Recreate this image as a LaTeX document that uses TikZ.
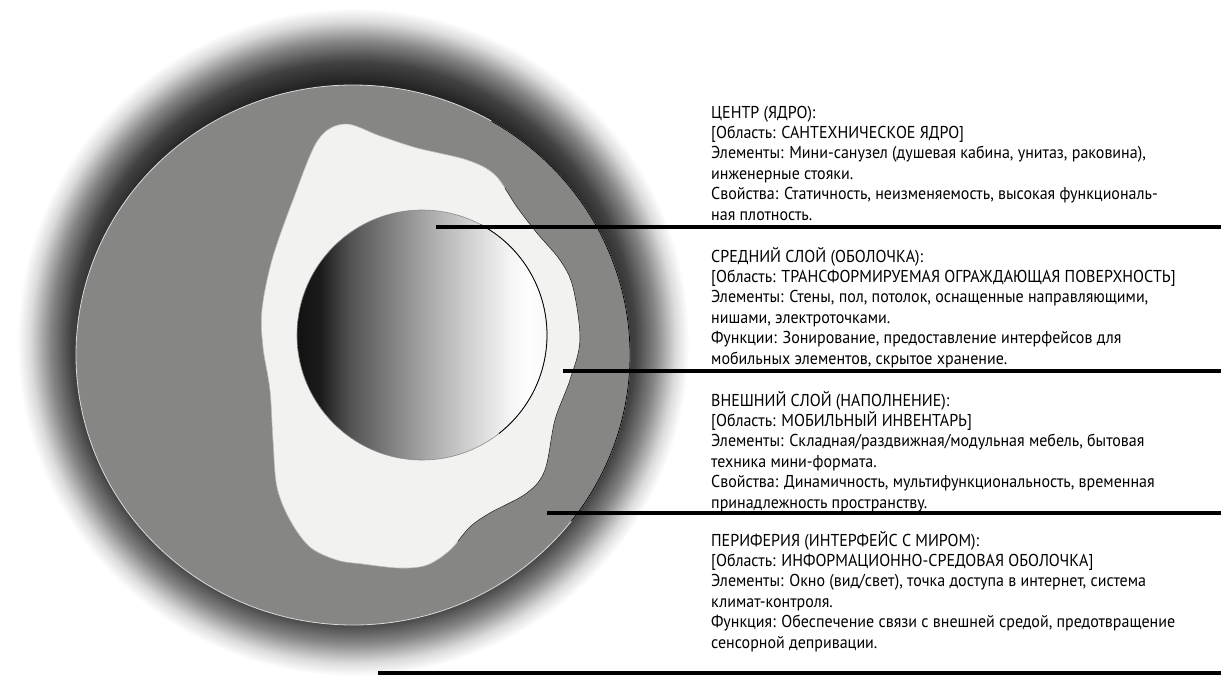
\documentclass[tikz,border=0pt]{standalone}
\usepackage{fontspec}
\setmainfont[FakeStretch=0.93]{PT Sans}
\usetikzlibrary{positioning}
\definecolor{disk}{RGB}{134,134,133}
\definecolor{blob}{RGB}{242,242,240}
\pgfdeclareradialshading{halo}{\pgfpoint{0bp}{0bp}}{color(0bp)=(black!86); color(19.5bp)=(black!86); color(21bp)=(black!74); color(22.5bp)=(black!48); color(24bp)=(black!14); color(25bp)=(white); color(50bp)=(white)}
\pgfdeclarehorizontalshading{sphere}{100bp}{color(0bp)=(black!93); color(25bp)=(black!93); color(29.5bp)=(black!90); color(35.5bp)=(black!68); color(45.5bp)=(black!46); color(51.5bp)=(black!33); color(59.5bp)=(black!18); color(67.5bp)=(black!4); color(71.5bp)=(white); color(75bp)=(black!3); color(100bp)=(black!3)}
\tikzset{
  txt/.style={align=left, inner sep=0pt, font=\fontsize{17.2}{20.4}\selectfont},
  leader/.style={line width=3.6pt},
  rim/.style={line width=0.8pt},
}

\begin{document}
\begin{tikzpicture}[x=1pt,y=-1pt]
  \useasboundingbox (0,0) rectangle (1221,675);
  % halo and disk
  \shade[shading=halo] (353,342) ellipse [x radius=336, y radius=334];
  \fill[disk] (353,355) ellipse [x radius=277, y radius=270];
  \draw[rim, white!85!black] (353,355) ellipse [x radius=277, y radius=270];
  \draw[rim, black] ([shift={(-60:277 and 270)}]353,355) arc [start angle=-60, end angle=38, x radius=277, y radius=270];
  % blob
  \def\blobpath{plot[smooth cycle, tension=0.55] coordinates {(345,124) (380,136) (417,148) (467,160) (495,175) (517,207) (537,233) (560,260) (573,287) (580,340) (570,380) (555,420) (545,470) (527,493) (490,513) (470,527) (450,550) (427,565) (400,568) (363,564) (337,560) (310,547) (290,520) (277,487) (273,440) (270,390) (263,347) (262,310) (272,260) (293,200) (318,140)}}
  \fill[blob] \blobpath;
  \draw[line width=0.6pt, black!25] \blobpath;
  \begin{scope}
    \clip (510,150) -- (700,150) -- (700,600) -- (450,600) -- cycle;
    \draw[line width=0.6pt, black!85] \blobpath;
  \end{scope}
  % sphere
  \shade[shading=sphere] (422,335) circle [radius=125];
  \draw[line width=0.6pt, black!45] (422,335) circle [radius=125];
  \draw[rim, black] ([shift={(-62:125)}]422,335) arc [start angle=-62, end angle=52, radius=125];
  % leaders
  \coordinate (corept) at (436,227);   \coordinate (coreend) at (1221,227);
  \coordinate (shellpt) at (563,371);  \coordinate (shellend) at (1221,371);
  \coordinate (fillpt) at (547,513);   \coordinate (fillend) at (1221,513);
  \coordinate (worldpt) at (378,673);  \coordinate (worldend) at (1221,673);
  \draw[leader] (corept) -- (coreend);
  \draw[leader] (shellpt) -- (shellend);
  \draw[leader] (fillpt) -- (fillend);
  \draw[leader] (worldpt) -- (worldend);
  % labels (anchored at the last baseline)
  \node[txt, anchor=base west] (lcore) at (711,220) {ЦЕНТР (ЯДРО):\\{[}Область: САНТЕХНИЧЕСКОЕ ЯДРО]\\Элементы: Мини-санузел (душевая кабина, унитаз, раковина),\\инженерные стояки.\\Свойства: Статичность, неизменяемость, высокая функциональ-\\ная плотность.};
  \node[txt, anchor=base west] (lshell) at (711,364) {СРЕДНИЙ СЛОЙ (ОБОЛОЧКА):\\{[}Область: ТРАНСФОРМИРУЕМАЯ ОГРАЖДАЮЩАЯ ПОВЕРХНОСТЬ]\\Элементы: Стены, пол, потолок, оснащенные направляющими,\\нишами, электроточками.\\Функции: Зонирование, предоставление интерфейсов для\\мобильных элементов, скрытое хранение.};
  \node[txt, anchor=base west] (lstuff) at (711,508) {ВНЕШНИЙ СЛОЙ (НАПОЛНЕНИЕ):\\{[}Область: МОБИЛЬНЫЙ ИНВЕНТАРЬ]\\Элементы: Складная/раздвижная/модульная мебель, бытовая\\техника мини-формата.\\Свойства: Динамичность, мультифункциональность, временная\\принадлежность пространству.};
  \node[txt, anchor=base west] (lworld) at (711,648) {ПЕРИФЕРИЯ (ИНТЕРФЕЙС С МИРОМ):\\{[}Область: ИНФОРМАЦИОННО-СРЕДОВАЯ ОБОЛОЧКА]\\Элементы: Окно (вид/свет), точка доступа в интернет, система\\климат-контроля.\\Функция: Обеспечение связи с внешней средой, предотвращение\\сенсорной депривации.};
\end{tikzpicture}
\end{document}
